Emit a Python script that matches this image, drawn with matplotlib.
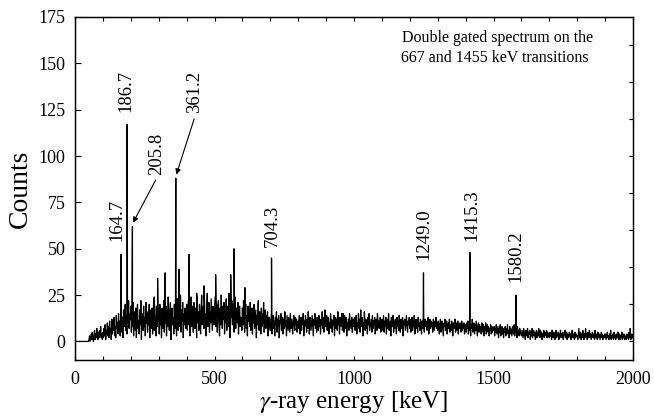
import numpy as np
import matplotlib
matplotlib.use('Agg')
import matplotlib.pyplot as plt

plt.rcParams['font.family'] = ['Liberation Serif', 'DejaVu Serif']
plt.rcParams['mathtext.fontset'] = 'stix'

# Background counts in 2 keV bins, 0 - 2000 keV (each pair of rows = 100 keV)
BIN_WIDTH = 2
background = [
    0, 0, 0, 0, 0, 0, 0, 0, 0, 0, 0, 0, 0, 0, 0, 0, 0, 0, 0, 0, 0, 0, 0, 0, 0,
    1, 3, 0, 2, 4, 1, 5, 2, 0, 3, 6, 1, 4, 2, 7, 3, 1, 5, 2, 6, 3, 8, 2, 4, 1,
    5, 2, 7, 3, 9, 1, 6, 4, 10, 3, 8, 2, 11, 5, 7, 1, 12, 4, 9, 6, 13, 3, 8, 2, 14,
    7, 10, 4, 15, 6, 11, 3, 16, 9, 5, 13, 2, 17, 8, 12, 20, 6, 14, 4, 18, 10, 22, 7, 15, 12,
    19, 5, 13, 8, 21, 3, 16, 10, 6, 18, 2, 14, 20, 7, 11, 4, 17, 9, 22, 1, 15, 12, 6, 19, 8,
    13, 3, 21, 10, 16, 5, 14, 9, 20, 2, 17, 11, 7, 18, 4, 12, 23, 6, 15, 10, 3, 19, 8, 14, 11,
    16, 4, 20, 9, 13, 2, 18, 11, 7, 22, 5, 14, 10, 19, 3, 17, 8, 24, 12, 6, 15, 21, 1, 11, 18,
    9, 13, 4, 20, 7, 16, 10, 3, 23, 12, 6, 19, 14, 8, 25, 5, 17, 11, 21, 2, 15, 9, 18, 13, 7,
    20, 6, 14, 22, 9, 17, 3, 12, 24, 8, 15, 19, 5, 21, 11, 7, 18, 13, 2, 23, 10, 16, 6, 20, 14,
    4, 17, 25, 9, 12, 19, 7, 22, 11, 15, 3, 18, 26, 8, 13, 21, 5, 16, 10, 23, 14, 6, 19, 12, 9,
    17, 24, 8, 13, 20, 5, 15, 22, 11, 3, 18, 9, 25, 14, 7, 19, 12, 21, 4, 16, 10, 23, 6, 14, 19,
    8, 26, 11, 2, 17, 13, 22, 9, 15, 20, 5, 12, 24, 7, 18, 16, 10, 21, 4, 14, 19, 8, 13, 11, 6,
    18, 9, 22, 12, 5, 16, 20, 7, 14, 3, 19, 11, 17, 8, 21, 6, 13, 18, 4, 15, 10, 20, 7, 12, 17,
    2, 14, 9, 19, 11, 6, 16, 13, 4, 18, 8, 15, 10, 21, 5, 12, 17, 7, 14, 9, 16, 3, 11, 13, 8,
    6, 12, 15, 4, 10, 14, 7, 11, 3, 13, 9, 16, 5, 12, 8, 14, 2, 11, 10, 15, 6, 9, 13, 4, 12,
    7, 16, 8, 11, 3, 14, 10, 6, 13, 9, 5, 15, 7, 12, 10, 4, 11, 14, 8, 6, 13, 9, 12, 5, 10,
    11, 7, 14, 4, 10, 13, 6, 12, 9, 15, 3, 11, 8, 14, 10, 5, 12, 7, 16, 9, 4, 13, 11, 6, 10,
    14, 8, 3, 12, 9, 15, 7, 11, 5, 13, 10, 6, 14, 8, 12, 4, 11, 9, 16, 7, 13, 5, 10, 12, 8,
    9, 14, 6, 11, 13, 4, 10, 8, 15, 7, 12, 5, 11, 9, 14, 3, 10, 13, 7, 12, 6, 16, 9, 11, 4,
    13, 8, 10, 15, 6, 12, 9, 5, 14, 7, 11, 13, 3, 10, 8, 12, 6, 15, 9, 11, 7, 13, 5, 10, 12,
    8, 13, 6, 11, 14, 4, 10, 9, 15, 7, 12, 5, 17, 8, 11, 13, 3, 10, 9, 14, 6, 12, 7, 11, 4,
    13, 9, 15, 6, 10, 8, 12, 5, 14, 7, 11, 9, 13, 4, 10, 12, 6, 15, 8, 11, 7, 9, 13, 5, 10,
    12, 6, 10, 14, 5, 11, 8, 13, 4, 9, 12, 7, 15, 6, 10, 11, 3, 13, 8, 9, 14, 5, 11, 7, 12,
    10, 4, 13, 8, 11, 6, 14, 9, 5, 12, 10, 7, 13, 3, 11, 9, 12, 6, 10, 14, 8, 5, 11, 9, 13,
    7, 12, 5, 10, 13, 6, 11, 8, 14, 4, 9, 12, 7, 11, 5, 13, 8, 10, 6, 12, 9, 4, 11, 7, 13,
    10, 5, 12, 8, 9, 11, 6, 10, 13, 4, 9, 12, 7, 11, 8, 10, 5, 12, 9, 6, 11, 8, 13, 7, 10,
    6, 11, 8, 4, 10, 12, 5, 9, 11, 7, 3, 10, 8, 12, 6, 9, 11, 4, 8, 10, 7, 12, 5, 9, 6,
    11, 8, 3, 10, 7, 9, 12, 5, 8, 10, 6, 11, 4, 9, 7, 10, 8, 5, 11, 6, 9, 7, 10, 4, 8,
    9, 5, 10, 7, 11, 4, 8, 6, 10, 3, 9, 7, 12, 5, 8, 10, 4, 9, 6, 11, 7, 3, 8, 10, 5,
    9, 6, 8, 4, 10, 7, 5, 9, 3, 8, 6, 10, 4, 7, 9, 5, 8, 3, 7, 6, 9, 4, 8, 5, 7,
    6, 8, 3, 7, 5, 9, 4, 6, 8, 2, 7, 5, 9, 3, 6, 8, 4, 7, 2, 6, 5, 8, 3, 7, 4,
    9, 5, 6, 2, 8, 4, 7, 5, 3, 8, 6, 4, 9, 3, 7, 5, 6, 2, 8, 4, 6, 3, 7, 5, 4,
    3, 6, 4, 2, 7, 3, 5, 1, 6, 4, 3, 7, 2, 5, 4, 6, 1, 5, 3, 7, 2, 4, 6, 3, 5,
    1, 4, 6, 2, 5, 3, 7, 4, 2, 6, 3, 5, 1, 4, 3, 6, 2, 5, 4, 3, 6, 2, 5, 3, 4,
    2, 5, 3, 4, 1, 6, 3, 2, 5, 4, 1, 3, 6, 2, 4, 3, 5, 1, 4, 2, 6, 3, 4, 2, 5,
    1, 3, 4, 6, 2, 3, 5, 1, 4, 3, 2, 5, 3, 4, 1, 3, 6, 2, 4, 3, 1, 5, 2, 4, 3,
    3, 1, 4, 7, 2, 3, 5, 1, 4, 2, 6, 3, 1, 4, 2, 7, 3, 4, 1, 5, 2, 3, 6, 2, 4,
    1, 3, 5, 2, 4, 3, 1, 6, 2, 4, 3, 1, 5, 2, 3, 4, 1, 3, 5, 2, 4, 1, 3, 2, 4,
    2, 4, 1, 3, 5, 2, 3, 1, 4, 2, 6, 1, 3, 2, 4, 1, 5, 2, 3, 1, 4, 2, 3, 5, 1,
    2, 4, 1, 3, 2, 5, 1, 3, 2, 4, 1, 2, 3, 1, 4, 2, 3, 1, 5, 2, 3, 1, 2, 4, 2,
]

# Labelled transitions (keV) and their peak heights
peak_energy = [164.7, 186.7, 205.8, 361.2, 704.3, 1249.0, 1415.3, 1580.2]
peak_height = [47, 117, 62, 88, 45, 37, 48, 25]
peak_label = ['164.7', '186.7', '205.8', '361.2', '704.3', '1249.0', '1415.3', '1580.2']

# Other unlabelled lines seen in the spectrum
extra_energy = [284, 296, 323, 373, 409, 436, 462, 504, 558, 570, 609, 657, 896, 961, 1037, 1085, 1990]
extra_height = [24, 34, 37, 39, 47, 26, 30, 36, 36, 50, 29, 22, 17, 15, 16, 13, 7]

# Label positions (keV, counts) and whether an arrow points at the line
label_pos = [(149, 54), (181, 124), (292, 90), (430, 123), (708, 51), (1249, 44), (1421, 54), (1582, 32)]
label_arrow = [False, False, True, True, False, False, False, False]

bg_energy = np.arange(len(background)) * BIN_WIDTH
energy = np.concatenate([bg_energy, peak_energy, extra_energy])
counts = np.concatenate([background, peak_height, extra_height])
order = np.argsort(energy, kind='stable')
energy, counts = energy[order], counts[order]

fig = plt.figure(figsize=(6.54, 4.18), dpi=100)
ax = fig.add_axes([0.1147, 0.1388, 0.8532, 0.8206])
ax.plot(energy, counts, color='black', lw=0.9)

ax.set_xlim(0, 2000)
ax.set_ylim(-10, 175)
ax.set_xticks(range(0, 2001, 500))
ax.set_xticks(range(0, 2001, 100), minor=True)
ax.set_yticks(range(0, 176, 25))
ax.tick_params(axis='both', which='both', direction='in', labelsize=13, width=0.8)
ax.tick_params(axis='x', which='both', top=True, length=3, pad=8)
ax.tick_params(axis='y', which='major', length=4, pad=7)
for s in ax.spines.values():
    s.set_linewidth(1.0)

ax2 = ax.twinx()
ax2.set_ylim(ax.get_ylim())
ax2.set_yticks(range(0, 161, 20))
ax2.tick_params(direction='in', length=3, width=0.8, labelright=False)

ax.set_xlabel(r'$\gamma$-ray energy [keV]', fontsize=18, labelpad=1)
ax.set_ylabel('Counts', fontsize=20, labelpad=4)

for e, h, lab, pos, arr in zip(peak_energy, peak_height, peak_label, label_pos, label_arrow):
    ax.text(pos[0], pos[1], lab, rotation=90, ha='center', va='bottom', fontsize=13.5)
    if arr:
        ax.annotate('', xy=(e + 2, h + 2), xytext=(pos[0] - 3, pos[1] - 3),
                    arrowprops=dict(arrowstyle='-|>', color='black', lw=0.8,
                                    mutation_scale=8, shrinkA=0, shrinkB=0))

ax.text(1857, 161.6, 'Double gated spectrum on the', ha='right', va='baseline', fontsize=11.5)
ax.text(1842, 150.8, '667 and 1455 keV transitions', ha='right', va='baseline', fontsize=11.5)

fig.savefig('out.png', dpi=100)
